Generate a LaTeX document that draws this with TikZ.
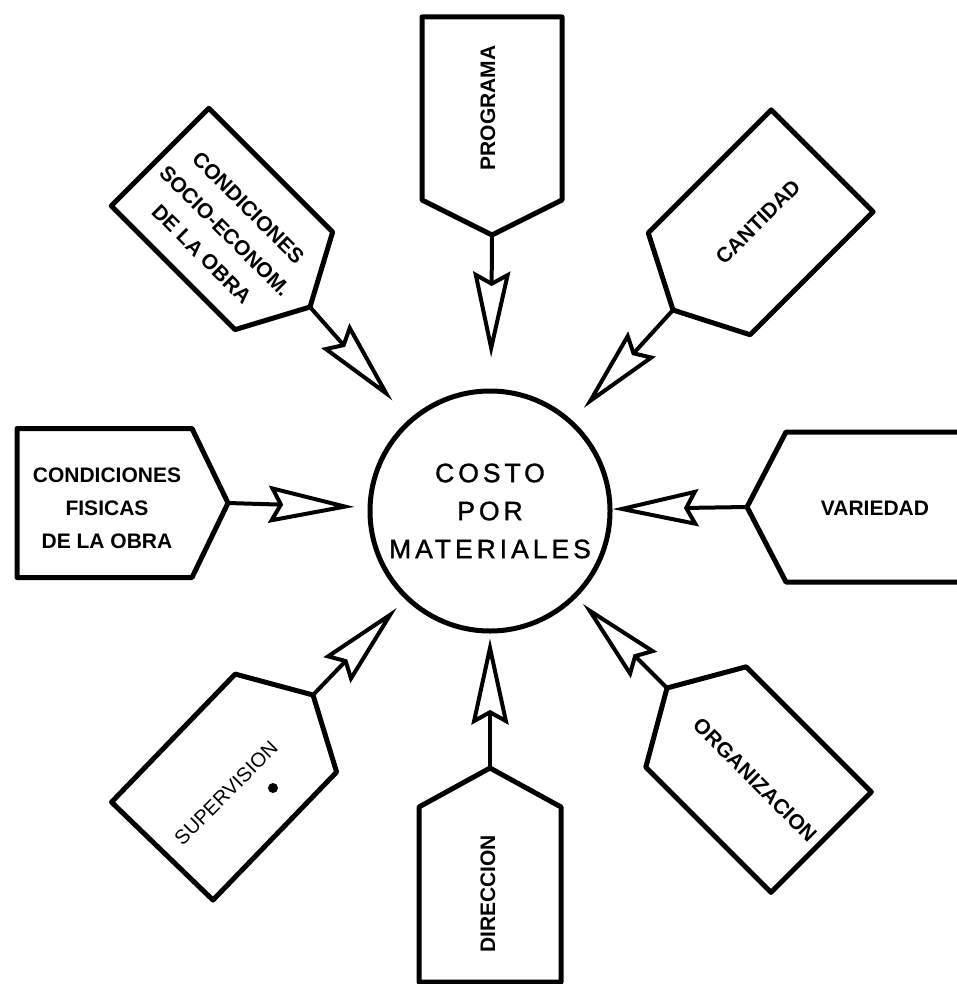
\documentclass[tikz,border=0pt]{standalone}
\usepackage{fontspec}
\setmainfont{Liberation Sans}
\newfontfamily\circfont[LetterSpace=15, FakeBold=1.2]{Liberation Sans}
\usetikzlibrary{arrows.meta}
\tikzset{
  boxline/.style={line width=5pt, line join=round},
  pics/tagbox/.style args={#1/#2/#3}{code={
    \draw[boxline] (0,0) -- (-#3,#1/2) -- (-#3-#2,#1/2) -- (-#3-#2,-#1/2) -- (-#3,-#1/2) -- cycle;
    \coordinate (-tip) at (0,0);
  }},
  conn/.style={line width=4pt, -{Stealth[open, length=86pt 0, width=37pt 0, inset=10pt 0]}},
  tagtext/.style={font=\fontsize{21}{33}\selectfont\bfseries, align=center, inner sep=0pt},
}
\begin{document}
\begin{tikzpicture}[x=1pt,y=-1pt]
\useasboundingbox (0,0) rectangle (957,984);
\clip (0,0) rectangle (957,984);
\node[circle, draw, line width=5pt, minimum size=240pt, inner sep=0pt, align=center,
      font=\circfont\fontsize{26.5}{38}\selectfont] (circ) at (490,511) {COSTO\\POR\\MATERIALES};

\pic[rotate=-90]  (prog) at (492,235) {tagbox=140/183/35};
\pic[rotate=-135] (cant) at (673,310) {tagbox=144/174/37};
\pic[rotate=180]  (var)  at (747,507) {tagbox=150/250/39};
\pic[rotate=135]  (org)  at (667,688) {tagbox=142/177/41};
\pic[rotate=90]   (dir)  at (490,768) {tagbox=142/175/39};
\pic[rotate=46]   (sup)  at (313,695) {tagbox=141/178/39};
\pic[rotate=0]    (fis)  at (228,503) {tagbox=149/175/36};
\pic[rotate=-45]  (soc)  at (310,307) {tagbox=138/175/37};

\node[tagtext, rotate=90]  (tprog) at (488,108) {PROGRAMA};
\node[tagtext, rotate=45]  (tcant) at (758,222) {CANTIDAD};
\node[tagtext]             (tvar)  at (875,508) {VARIEDAD};
\node[tagtext, rotate=-45] (torg)  at (755,780) {ORGANIZACION};
\node[tagtext, rotate=90]  (tdir)  at (488,894) {DIRECCION};
\node[tagtext, font=\fontsize{20}{30}\selectfont, rotate=45] (tsup) at (226,793) {SUPERVISION};
\node[tagtext]             (tfis)  at (107,508) {CONDICIONES\\FISICAS\\DE LA OBRA};
\node[tagtext, rotate=-45] (tsoc)  at (225,231) {CONDICIONES\\SOCIO-ECONOM.\\DE LA OBRA};

\draw[conn, shorten >=31pt] (prog-tip) -- (circ);
\draw[conn, shorten >=17pt] (cant-tip) -- (circ);
\draw[conn, shorten >=0pt]  (var-tip)  -- (circ);
\draw[conn, shorten >=9pt]  (org-tip)  -- (circ);
\draw[conn, shorten >=5pt]  (dir-tip)  -- (circ);
\draw[conn, shorten >=12pt] (sup-tip)  -- (circ);
\draw[conn, shorten >=13pt] (fis-tip)  -- (circ);
\draw[conn, shorten >=25pt] (soc-tip)  -- (circ);

\fill (273,788) circle (5pt);
\end{tikzpicture}
\end{document}
